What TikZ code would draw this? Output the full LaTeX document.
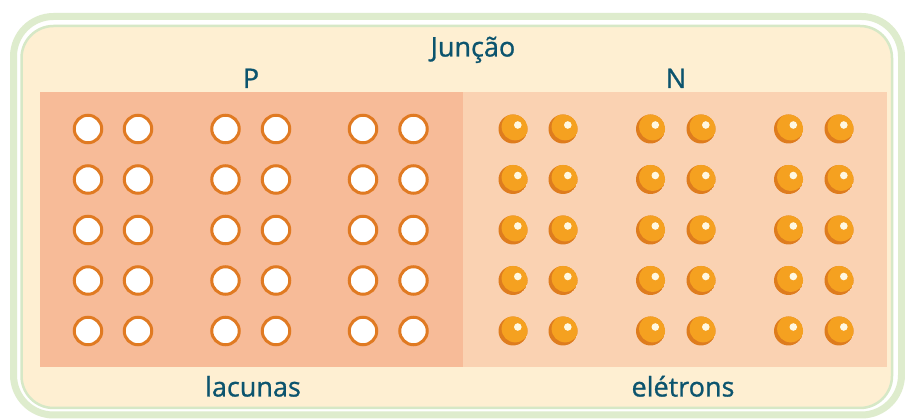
\documentclass[tikz,border=0pt]{standalone}
\usepackage{fontspec}
\setmainfont{Open Sans}
\newfontfamily\lblfont{Open Sans}[FakeBold=0.9]
\definecolor{frame}{RGB}{222,236,205}
\definecolor{framein}{RGB}{214,232,198}
\definecolor{cream}{RGB}{254,239,210}
\definecolor{salmonP}{RGB}{247,187,152}
\definecolor{salmonN}{RGB}{250,210,178}
\definecolor{ring}{RGB}{224,122,34}
\definecolor{ballA}{RGB}{245,161,32}
\definecolor{ballB}{RGB}{222,124,30}
\definecolor{shine}{RGB}{255,248,225}
\definecolor{txt}{RGB}{12,84,110}
\tikzset{
  lbl/.style={text=txt, font=\lblfont\fontsize{27}{30}\selectfont, inner sep=0pt, anchor=base},
  hole/.style={circle, draw=ring, line width=3pt, fill=white, minimum size=27.5pt, inner sep=0pt},
}
\newcommand{\electron}[2]{%
  \begin{scope}
    \clip (#1,#2) circle (14.5);
    \fill[ballB] (#1,#2) circle (14.5);
    \fill[ballA] (#1+2.2,#2-2.2) circle (13.6);
  \end{scope}
  \fill[shine] (#1+4.8,#2-4) circle (3.8);
}
\begin{document}
\begin{tikzpicture}[x=1pt,y=-1pt]
\useasboundingbox (0,0) rectangle (905,419);
\fill[white] (0,0) rectangle (905,419);
% frame
\draw[frame, line width=7pt, rounded corners=40pt] (13.5,16.5) rectangle (901.5,415);
\draw[framein, fill=cream, line width=2.5pt, rounded corners=32pt] (21.5,26) rectangle (892,408);
% panels
\fill[salmonP] (40,92) rectangle (463,367.5);
\fill[salmonN] (463,92) rectangle (887,367.5);
% labels
\node[lbl] (jun) at (473,56.5) {Junção};
\node[lbl] (p) at (251,88) {P};
\node[lbl] (n) at (676,88) {N};
\node[lbl] (lac) at (253,396.5) {lacunas};
\node[lbl] (ele) at (683,396.5) {elétrons};
% holes
\foreach \x in {88,138,225.5,276,363,413.5}{
  \foreach \y in {129,179.5,230,280.5,331}{
    \node[hole] at (\x,\y) {};
  }
}
% electrons
\foreach \x in {513,563,650.5,701,788.5,839}{
  \foreach \y in {129,179.5,230,280.5,331}{
    \electron{\x}{\y}
  }
}
\end{tikzpicture}
\end{document}
